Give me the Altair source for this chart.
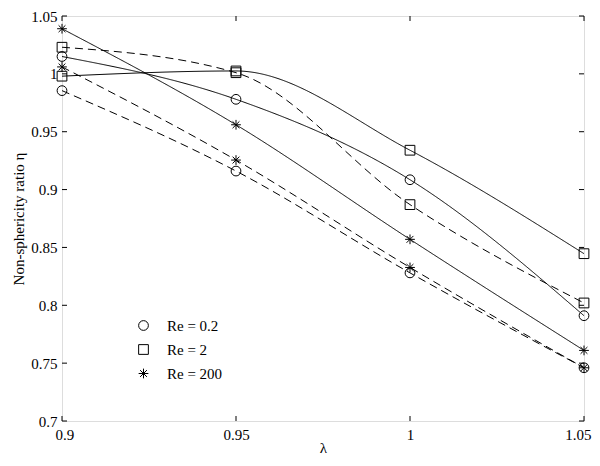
import altair as alt
import pandas as pd

lam = [0.9, 0.95, 1.0, 1.05]
re_labels = ["Re = 0.2", "Re = 2", "Re = 200"]
solid_02 = [1.015, 0.978, 0.9085, 0.791]
dashed_02 = [0.9855, 0.916, 0.828, 0.746]
solid_2 = [0.998, 1.0025, 0.934, 0.8446]
dashed_2 = [1.023, 1.001, 0.887, 0.802]
solid_200 = [1.039, 0.956, 0.857, 0.761]
dashed_200 = [1.006, 0.9255, 0.8327, 0.746]
x_ticks = [0.9, 0.95, 1.0, 1.05]
y_ticks = [0.7, 0.75, 0.8, 0.85, 0.9, 0.95, 1.0, 1.05]

series = [
    (re_labels[0], "solid", solid_02),
    (re_labels[0], "dashed", dashed_02),
    (re_labels[1], "solid", solid_2),
    (re_labels[1], "dashed", dashed_2),
    (re_labels[2], "solid", solid_200),
    (re_labels[2], "dashed", dashed_200),
]
rows = []
for re, sty, vals in series:
    for xv, yv in zip(lam, vals):
        rows.append({"lam": xv, "eta": yv, "re": re, "style": sty, "sid": re + sty})
df = pd.DataFrame(rows)

W, H = 522, 405
FONT = "Liberation Serif"
star = "M-1,0L1,0M0,-1L0,1M-0.7,-0.7L0.7,0.7M-0.7,0.7L0.7,-0.7"

xs = alt.Scale(domain=[0.9, 1.05], nice=False, zero=False)
ys = alt.Scale(domain=[0.7, 1.05], nice=False, zero=False)

xax = alt.Axis(values=x_ticks, format="~g", ticks=False, domain=False, grid=False,
               labelFont=FONT, labelFontSize=15, labelPadding=6, labelColor="black",
               labelFlush=True, labelFlushOffset=7,
               title="λ", titleFont=FONT, titleFontSize=15, titleFontWeight="normal",
               titleY=31, titleBaseline="alphabetic", titleColor="black")
yax = alt.Axis(values=y_ticks, format="~g", ticks=False, domain=False, grid=False,
               labelFont=FONT, labelFontSize=15, labelPadding=5, labelColor="black",
               labelFlush=False,
               title="Non-sphericity ratio η", titleFont=FONT, titleFontSize=15,
               titleFontWeight="normal", titlePadding=4, titleColor="black")

base = alt.Chart(df)
lines = base.mark_line(interpolate="monotone", color="black", strokeWidth=1).encode(
    x=alt.X("lam:Q", scale=xs, axis=xax),
    y=alt.Y("eta:Q", scale=ys, axis=yax),
    detail="sid:N",
    strokeDash=alt.StrokeDash("style:N", scale=alt.Scale(domain=["solid", "dashed"], range=[[1, 0], [8, 5]]), legend=None),
)
points = base.mark_point(filled=False, color="black", strokeWidth=1, size=95, opacity=1).encode(
    x=alt.X("lam:Q", scale=xs),
    y=alt.Y("eta:Q", scale=ys),
    shape=alt.Shape("re:N", scale=alt.Scale(domain=re_labels, range=["circle", "square", star]),
                    legend=alt.Legend(title=None, orient="none", legendX=74, legendY=302,
                                      labelFont=FONT, labelFontSize=15, labelColor="black",
                                      symbolStrokeColor="black", symbolFillColor="transparent",
                                      symbolStrokeWidth=1, symbolSize=95, rowPadding=8,
                                      labelOffset=16)),
)

xt = pd.DataFrame({"v": x_ticks})
yt = pd.DataFrame({"v": y_ticks})
tick_b = alt.Chart(xt).mark_rule(color="black").encode(x=alt.X("v:Q", scale=xs), y=alt.value(H), y2=alt.value(H - 5))
tick_t = alt.Chart(xt).mark_rule(color="black").encode(x=alt.X("v:Q", scale=xs), y=alt.value(0), y2=alt.value(5))
tick_l = alt.Chart(yt).mark_rule(color="black").encode(y=alt.Y("v:Q", scale=ys), x=alt.value(0), x2=alt.value(5))
tick_r = alt.Chart(yt).mark_rule(color="black").encode(y=alt.Y("v:Q", scale=ys), x=alt.value(W - 5), x2=alt.value(W))

chart = alt.layer(lines, points, tick_b, tick_t, tick_l, tick_r).properties(
    width=W, height=H,
    autosize=alt.AutoSizeParams(type="none"),
    padding={"left": 54, "top": 8, "right": 8, "bottom": 37},
).configure_view(stroke="black", strokeWidth=1).configure(background="white")

chart.save("out.html", embed_options={"renderer": "svg", "actions": False})
